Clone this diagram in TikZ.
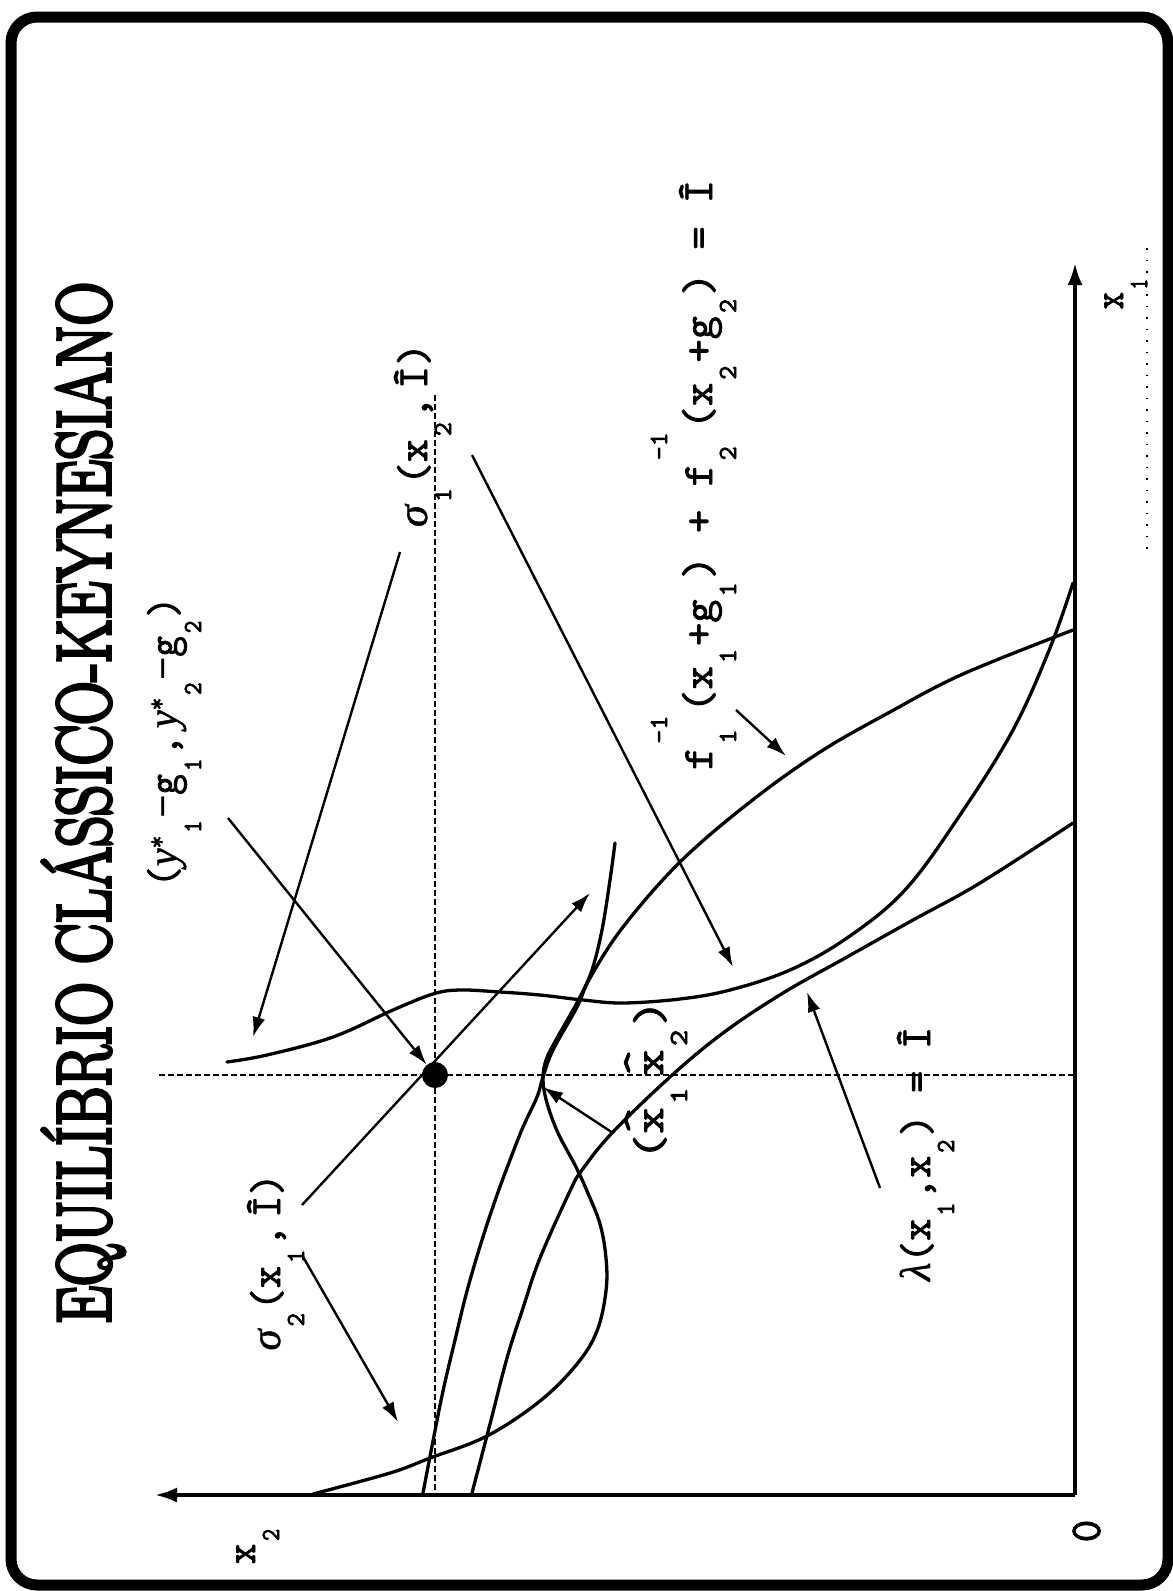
\documentclass[tikz,border=0pt]{standalone}
\usepackage{fontspec}
\usepackage{graphicx}
\usetikzlibrary{arrows.meta}
\newfontfamily\titlefont{Latin Modern Roman}[FakeBold=5]
\newfontfamily\lbltt{Latin Modern Mono}[FakeBold=2]
\newfontfamily\subtt{Latin Modern Mono}[FakeBold=3]
\newfontfamily\grk{Liberation Serif}[FakeBold=1]
\newcommand\lfont{\fontsize{43}{43}\selectfont\lbltt}
\newcommand\sfnt{\fontsize{26}{26}\selectfont\subtt}
\newcommand\lsub[1]{\hspace{3pt}\raisebox{-24pt}{\sfnt #1}\hspace{3pt}}
\newcommand\lss[2]{\hspace{3pt}\rlap{\raisebox{-24pt}{\sfnt #1}}\raisebox{45pt}{\sfnt #2}\hspace{3pt}}
\newcommand\gi[1]{{\grk\itshape #1}}
\newcommand\xhat{\makebox[0pt][l]{\raisebox{12pt}{\char"005E}}x}
\begin{document}
\begin{tikzpicture}[x=1pt,y=-1pt,
 curve/.style={line width=3.3pt, line join=round, line cap=round},
 lbl/.style={rotate=90, anchor=base, inner sep=0pt},
 arr/.style={line width=2.4pt, -{Latex[length=20pt,width=13pt]}},
 axis/.style={line width=3.5pt, -{Latex[length=22pt,width=15pt]}},
 dsh/.style={line width=2.2pt, dash pattern=on 6pt off 3pt}]
\useasboundingbox (0,0) rectangle (1173,1591);
\draw[line width=11pt, rounded corners=26pt] (11,17) rectangle (1168,1585);

% title
\node[lbl] (tTitle) at (110,803) {\resizebox{1042pt}{\height}{\fontsize{76}{76}\selectfont\titlefont EQUILÍBRIO CLÁSSICO-KEYNESIANO}};

% dashed guides
\draw[dsh] (159,1075) -- (1075,1075);
\draw[dsh] (435,395) -- (435,1495);
\draw[line width=1.5pt, dash pattern=on 1.5pt off 10pt] (1147,248) -- (1147,550);

% axes
\coordinate (O) at (1075,1495);
\coordinate (X1) at (1075,263);
\coordinate (X2) at (155,1495);
\draw[axis] (O) -- (X1);
\draw[axis] (O) -- (X2);

% curves
\draw[curve] plot[smooth, tension=0.6] coordinates {(313,1494) (390,1473) (430,1458) (487,1436) (540,1401) (577,1364) (597,1331) (606,1291) (606,1258) (600,1224) (587,1191) (575,1165) (558,1133) (547,1103) (543,1080) (546,1060) (556,1040) (569,1017) (580,997) (592,970) (602,930) (610,880) (615,843)};
\draw[curve] plot[smooth, tension=0.6] coordinates {(423,1493) (433,1441) (443,1391) (455,1340) (467,1291) (482,1240) (497,1195) (510,1160) (523,1127) (537,1097) (543,1077) (553,1050) (577,1007) (590,978) (623,927) (680,862) (750,802) (820,752) (890,712) (963,674) (1073,630)};
\draw[curve] plot[smooth, tension=0.6] coordinates {(472,1493) (490,1424) (507,1358) (523,1308) (540,1258) (570,1191) (582,1170) (612,1133) (670,1077) (723,1033) (783,993) (847,957) (913,920) (980,883) (1073,823)};
\draw[curve] plot[smooth, tension=0.6] coordinates {(227,1062) (267,1055) (333,1037) (393,1010) (433,994) (460,990) (500,992) (540,995) (583,1000) (623,1003) (680,999) (730,990) (790,970) (847,938) (905,890) (960,815) (1013,730) (1050,648) (1073,583)};

% equilibrium point
\node[circle, fill, inner sep=0pt, minimum size=26pt] (eq) at (435,1075) {};

% labels
\node[lbl] (tY) at (177,742) {\resizebox{290pt}{\height}{\lfont(\gi{y}\raisebox{12pt}{\sfnt *}\lsub{1}{\grk −}g\lsub{1},\,\gi{y}\raisebox{12pt}{\sfnt *}\lsub{2}{\grk −}g\lsub{2})}};
\node[lbl] (tS1) at (427,435) {\resizebox{184pt}{\height}{\lfont\gi{σ}\lsub{1}(x\lsub{2},\,Î)}};
\node[lbl] (tF) at (712,475) {\resizebox{590pt}{\height}{\lfont f\lss{1}{-1}(x\lsub{1}+g\lsub{1}) + f\lss{2}{-1}(x\lsub{2}+g\lsub{2}) = Î}};
\node[lbl] (tL) at (930,1154) {\resizebox{254pt}{\height}{\lfont\gi{λ}(x\lsub{1},x\lsub{2}) = Î}};
\node[lbl] (tH) at (663,1080) {\resizebox{160pt}{\height}{\lfont(\xhat\lsub{1}\,\xhat\lsub{2})}};
\node[lbl] (tS2) at (280,1262) {\resizebox{177pt}{\height}{\lfont\gi{σ}\lsub{2}(x\lsub{1},\,Î)}};
\node[lbl] (tX1) at (1123,293) {\resizebox{33pt}{\height}{\lfont x\lsub{1}}};
\node[lbl] (tX2) at (255,1545) {\resizebox{38pt}{\height}{\lfont x\lsub{2}}};
\node[lbl] (t0) at (1100,1531) {\fontsize{44}{44}\selectfont\lbltt 0};

% arrows
\coordinate (a1s) at (228,818);
\coordinate (a2s) at (400,552);  \coordinate (a2e) at (253,1037);
\coordinate (a3s) at (472,455);  \coordinate (a3e) at (733,967);
\coordinate (a4s) at (302,1255); \coordinate (a4e) at (398,1422);
\coordinate (a5s) at (302,1205); \coordinate (a5e) at (590,893);
\coordinate (a6s) at (613,1133); \coordinate (a6e) at (543,1087);
\coordinate (a7s) at (880,1188); \coordinate (a7e) at (807,992);
\coordinate (a8s) at (736,710);  \coordinate (a8e) at (786,756);
\draw[arr] (a1s) -- (eq);
\draw[arr] (a2s) -- (a2e);
\draw[arr] (a3s) -- (a3e);
\draw[arr] (a4s) -- (a4e);
\draw[arr] (a5s) -- (a5e);
\draw[arr] (a6s) -- (a6e);
\draw[arr] (a7s) -- (a7e);
\draw[arr] (a8s) -- (a8e);
\end{tikzpicture}
\end{document}
